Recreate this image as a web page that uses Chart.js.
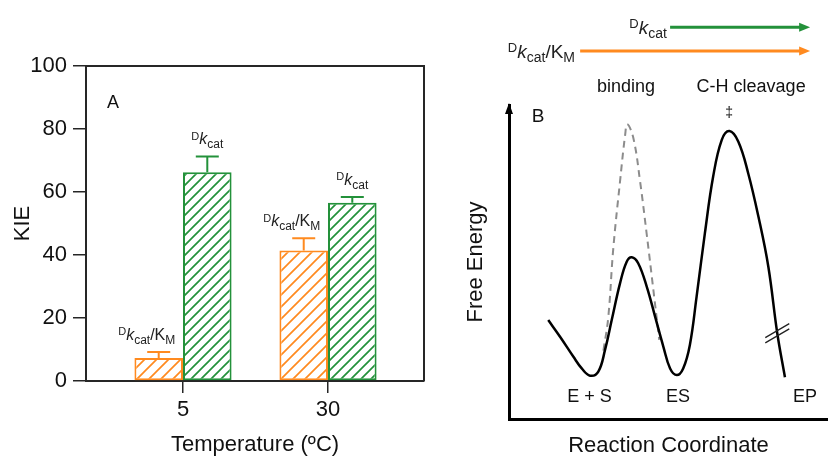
<!DOCTYPE html>
<html>
<head>
<meta charset="utf-8">
<script src="https://cdn.jsdelivr.net/npm/chart.js@4/dist/chart.umd.min.js"></script>
<style>
  html, body { margin: 0; padding: 0; background: #fff; }
  #wrap { position: relative; width: 828px; height: 459px; overflow: hidden; }
  canvas { position: absolute; top: 0; }
  #kie { left: 0; }
  #energy { left: 440px; }
</style>
</head>
<body>
<div id="wrap">
  <canvas id="kie" width="440" height="459"></canvas>
  <canvas id="energy" width="388" height="459"></canvas>
</div>
<script>
const FONT = '"Liberation Sans", Arial, Helvetica, sans-serif';
const ORANGE = '#ff8a1f';
const GREEN = '#23913a';
const INK = '#262626';

// Panel A - kinetic isotope effects
const temps = ['5', '30'];
const kcatKM = [7.3, 41.4];
const kcatKMErr = [1.9, 3.9];
const kcat = [66.3, 56.6];
const kcatErr = [5.0, 1.8];
const kieTicks = [0, 20, 40, 60, 80, 100];

// Panel B - free energy profile (arbitrary 0-100 units on both axes)
const rxnX = [12.3, 16.0, 20.2, 22.8, 25.4, 28.0, 30.1, 32.2, 34.8, 36.9, 38.5, 40.5, 43.2, 45.8, 48.4, 50.5, 52.6, 54.6, 56.7, 58.8, 61.4, 64.0, 66.7, 69.1, 71.9, 75.0, 78.2, 81.3, 84.1, 86.5];
const rxnG = [31.5, 26.2, 19.8, 16.1, 13.8, 15.1, 22.0, 31.5, 43.2, 50.1, 51.5, 49.6, 42.1, 32.6, 23.0, 16.1, 14.0, 16.1, 23.6, 38.9, 59.1, 77.2, 88.9, 91.7, 88.3, 78.2, 64.4, 48.5, 27.3, 13.3];
const bindX = [29.6, 31.1, 32.7, 34.8, 36.4, 37.1, 39.0, 41.1, 43.2, 45.2, 47.1];
const bindG = [21.8, 32.2, 54.4, 75.6, 90.4, 93.9, 89.4, 75.6, 58.6, 41.6, 25.2];
const states = ['E + S', 'ES', 'EP'];
const stateX = [25.2, 53.0, 92.8];

// diagonal hatch fill
function hatch(color, step) {
  const c = document.createElement('canvas');
  c.width = step; c.height = step;
  const g = c.getContext('2d');
  g.fillStyle = '#fff';
  g.fillRect(0, 0, step, step);
  g.strokeStyle = color;
  g.lineWidth = 1.7;
  g.beginPath();
  g.moveTo(0, step); g.lineTo(step, 0);
  g.moveTo(-2, 2); g.lineTo(2, -2);
  g.moveTo(step - 2, step + 2); g.lineTo(step + 2, step - 2);
  g.stroke();
  return g.createPattern(c, 'repeat');
}

// D superscript, italic k, "cat" subscript, optional /K_M
function drawKin(ctx, x, y, size, withKM, align) {
  const sub = Math.round(size * 0.72);
  const parts = [
    { t: 'D', f: Math.round(size * 0.66) + 'px ' + FONT, dy: -size * 0.3 },
    { t: 'k', f: 'italic ' + size + 'px ' + FONT, dy: 0 },
    { t: 'cat', f: sub + 'px ' + FONT, dy: size * 0.22 }
  ];
  if (withKM) {
    parts.push({ t: '/K', f: size + 'px ' + FONT, dy: 0 });
    parts.push({ t: 'M', f: sub + 'px ' + FONT, dy: size * 0.22 });
  }
  ctx.save();
  ctx.fillStyle = '#222';
  ctx.textBaseline = 'alphabetic';
  ctx.textAlign = 'left';
  let w = 0;
  parts.forEach(p => { ctx.font = p.f; p.w = ctx.measureText(p.t).width; w += p.w; });
  let cx = align === 'right' ? x - w : align === 'center' ? x - w / 2 : x;
  parts.forEach(p => { ctx.font = p.f; ctx.fillText(p.t, cx, y + p.dy); cx += p.w; });
  ctx.restore();
}

const kieDecor = {
  id: 'kieDecor',
  afterDatasetsDraw(chart) {
    const ctx = chart.ctx;
    const y = chart.scales.y;
    const errs = [kcatKMErr, kcatErr];
    chart.data.datasets.forEach((ds, i) => {
      chart.getDatasetMeta(i).data.forEach((bar, j) => {
        const top = y.getPixelForValue(ds.data[j].y + errs[i][j]);
        ctx.save();
        ctx.strokeStyle = ds.borderColor;
        ctx.lineWidth = 2;
        ctx.beginPath();
        ctx.moveTo(bar.x, bar.y);
        ctx.lineTo(bar.x, top);
        ctx.moveTo(bar.x - 11.5, top);
        ctx.lineTo(bar.x + 11.5, top);
        ctx.stroke();
        ctx.restore();
        // series label above the error bar
        drawKin(ctx, bar.x + (i === 0 ? -12 : 0), top - 12, 16, i === 0, 'center');
      });
    });
  },
  afterDraw(chart) {
    const { ctx, chartArea: a } = chart;
    ctx.save();
    ctx.strokeStyle = INK;
    ctx.lineWidth = 2;
    ctx.beginPath();
    ctx.moveTo(a.left, a.top);
    ctx.lineTo(a.right, a.top);
    ctx.lineTo(a.right, a.bottom);
    ctx.stroke();
    ctx.fillStyle = '#111';
    ctx.font = '18px ' + FONT;
    ctx.textAlign = 'center';
    ctx.textBaseline = 'middle';
    ctx.fillText('A', a.left + 27, a.top + 37);
    ctx.restore();
  }
};

new Chart(document.getElementById('kie'), {
  type: 'bar',
  data: {
    datasets: [
      {
        label: 'Dkcat/KM',
        data: temps.map((t, i) => ({ x: i, y: kcatKM[i] })),
        backgroundColor: hatch(ORANGE, 12),
        borderColor: ORANGE,
        borderWidth: 2,
        borderSkipped: false,
        categoryPercentage: 0.67,
        barPercentage: 1
      },
      {
        label: 'Dkcat',
        data: temps.map((t, i) => ({ x: i, y: kcat[i] })),
        backgroundColor: hatch(GREEN, 10),
        borderColor: GREEN,
        borderWidth: 2,
        borderSkipped: false,
        categoryPercentage: 0.67,
        barPercentage: 1
      }
    ]
  },
  options: {
    responsive: false,
    devicePixelRatio: 1,
    animation: false,
    events: [],
    layout: { padding: { top: 66, right: 16, left: 0, bottom: 0 } },
    plugins: { legend: { display: false }, tooltip: { enabled: false } },
    scales: {
      x: {
        type: 'linear',
        min: -0.669,
        max: 1.662,
        offset: false,
        afterBuildTicks: s => { s.ticks = temps.map((t, i) => ({ value: i })); },
        afterFit: s => { s.height = 78; },
        ticks: {
          callback: v => temps[v],
          font: { size: 22, family: FONT },
          color: '#111',
          padding: 4,
          maxRotation: 0,
          autoSkip: false
        },
        grid: { offset: false, drawOnChartArea: false, drawTicks: true, tickLength: 12, color: INK, lineWidth: 1.5 },
        border: { color: INK, width: 2 },
        title: { display: true, text: 'Temperature (ºC)', font: { size: 22, family: FONT }, color: '#111', padding: { top: 0, bottom: 1 } }
      },
      y: {
        min: 0,
        max: 100,
        afterBuildTicks: s => { s.ticks = kieTicks.map(v => ({ value: v })); },
        afterFit: s => { s.width = 86; },
        ticks: { font: { size: 22, family: FONT }, color: '#111', padding: 6 },
        grid: { drawOnChartArea: false, drawTicks: true, tickLength: 13, color: INK, lineWidth: 1.5 },
        border: { color: INK, width: 2 },
        title: { display: true, text: 'KIE', font: { size: 22, family: FONT }, color: '#111', padding: { top: 10, bottom: 0 } }
      }
    }
  },
  plugins: [kieDecor]
});

const energyDecor = {
  id: 'energyDecor',
  afterDraw(chart) {
    const ctx = chart.ctx;
    const xs = chart.scales.x, ys = chart.scales.y;
    const px = v => xs.getPixelForValue(v);
    const py = v => ys.getPixelForValue(v);
    const a = chart.chartArea;
    ctx.save();
    // arrow head on the energy axis
    ctx.fillStyle = '#000';
    ctx.beginPath();
    ctx.moveTo(a.left, a.top - 2);
    ctx.lineTo(a.left - 4, a.top + 9);
    ctx.lineTo(a.left + 4, a.top + 9);
    ctx.closePath();
    ctx.fill();

    ctx.fillStyle = '#111';
    ctx.textAlign = 'center';
    ctx.textBaseline = 'middle';
    ctx.font = '19px ' + FONT;
    ctx.fillText('B', px(9.1), py(96.2));
    ctx.font = '18px ' + FONT;
    ctx.fillText('binding', px(36.7), py(105.7));
    ctx.fillText('C-H cleavage', px(75.9), py(105.7));
    states.forEach((s, i) => ctx.fillText(s, px(stateX[i]), py(7)));
    ctx.font = '14px ' + FONT;
    ctx.fillText('‡', px(69.0), py(97.5));

    // rate-constant arrows
    const arrow = (x0, x1, yv, color) => {
      const yy = py(yv);
      ctx.strokeStyle = color;
      ctx.fillStyle = color;
      ctx.lineWidth = 3;
      ctx.beginPath();
      ctx.moveTo(px(x0), yy);
      ctx.lineTo(px(x1) - 8, yy);
      ctx.stroke();
      ctx.beginPath();
      ctx.moveTo(px(x1), yy);
      ctx.lineTo(px(x1) - 11, yy - 4.5);
      ctx.lineTo(px(x1) - 11, yy + 4.5);
      ctx.closePath();
      ctx.fill();
    };
    arrow(50.5, 94.4, 124.8, GREEN);
    arrow(22.3, 94.4, 117.2, ORANGE);
    drawKin(ctx, px(49.5), py(122.6), 19, false, 'right');
    drawKin(ctx, px(20.7), py(115.0), 19, true, 'right');

    // axis break on the product side
    const bx = px(84.1), by = py(27.3);
    ctx.strokeStyle = '#222';
    ctx.lineWidth = 1.3;
    ctx.beginPath();
    [-2.6, 2.6].forEach(o => {
      ctx.moveTo(bx - 12, by + o + 7);
      ctx.lineTo(bx + 12, by + o - 7);
    });
    ctx.stroke();
    ctx.restore();
  }
};

new Chart(document.getElementById('energy'), {
  type: 'line',
  data: {
    datasets: [
      {
        label: 'profile',
        data: rxnX.map((x, i) => ({ x: x, y: rxnG[i] })),
        borderColor: '#000',
        borderWidth: 2.5,
        pointRadius: 0,
        fill: false,
        tension: 0.4
      },
      {
        label: 'binding barrier',
        data: bindX.map((x, i) => ({ x: x, y: bindG[i] })),
        borderColor: '#8c8c8c',
        borderWidth: 2,
        borderDash: [7, 5],
        pointRadius: 0,
        fill: false,
        tension: 0.4
      }
    ]
  },
  options: {
    responsive: false,
    devicePixelRatio: 1,
    animation: false,
    events: [],
    layout: { padding: { top: 105, right: 0, left: 0, bottom: 0 } },
    plugins: { legend: { display: false }, tooltip: { enabled: false } },
    scales: {
      x: {
        type: 'linear',
        min: 0,
        max: 100,
        afterFit: s => { s.height = 40; },
        ticks: { display: false },
        grid: { display: false, drawTicks: false },
        border: { color: '#000', width: 3 },
        title: { display: true, text: 'Reaction Coordinate', font: { size: 22, family: FONT }, color: '#111', padding: { top: 0, bottom: 0 } }
      },
      y: {
        min: 0,
        max: 100,
        afterFit: s => { s.width = 69; },
        ticks: { display: false },
        grid: { display: false, drawTicks: false },
        border: { color: '#000', width: 3 },
        title: { display: true, text: 'Free Energy', font: { size: 22, family: FONT }, color: '#111', padding: { top: 23, bottom: 0 } }
      }
    }
  },
  plugins: [energyDecor]
});
</script>
</body>
</html>
